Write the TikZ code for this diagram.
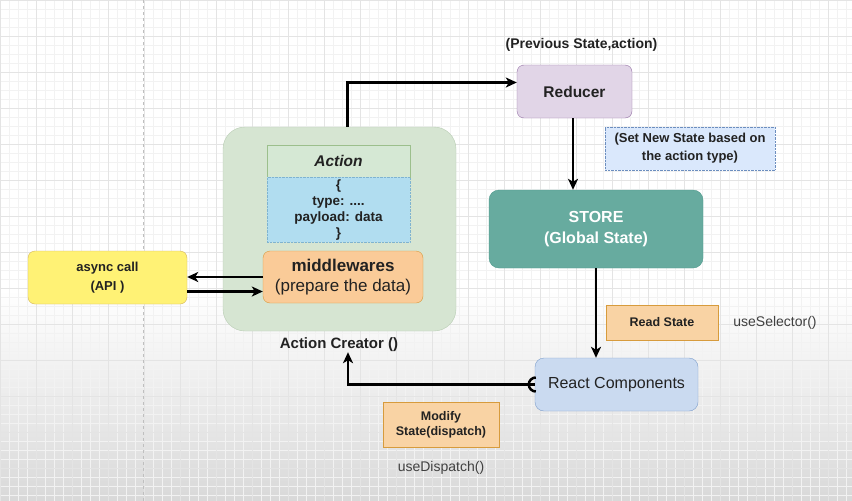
\documentclass[tikz,border=0pt]{standalone}
\usepackage{fontspec}
\setmainfont{Liberation Sans}
\usepackage{xcolor}
\usetikzlibrary{positioning, arrows.meta}

\definecolor{gridminor}{HTML}{F2F2F2}
\definecolor{gridmajor}{HTML}{E4E4E4}
\definecolor{txt}{HTML}{222222}
\definecolor{creatorfill}{HTML}{D6E5D2}
\definecolor{creatordraw}{HTML}{B9CDB4}
\definecolor{headfill}{HTML}{D5E8D4}
\definecolor{headdraw}{HTML}{9CBF8C}
\definecolor{bodyfill}{HTML}{B1DDF0}
\definecolor{bodydraw}{HTML}{7FB3D0}
\definecolor{mwfill}{HTML}{FACB98}
\definecolor{mwdraw}{HTML}{D89A3C}
\definecolor{apifill}{HTML}{FFF275}
\definecolor{apidraw}{HTML}{D6B656}
\definecolor{redfill}{HTML}{E1D5E7}
\definecolor{reddraw}{HTML}{9673A6}
\definecolor{notefill}{HTML}{DAE8FC}
\definecolor{notedraw}{HTML}{6C8EBF}
\definecolor{storefill}{HTML}{67AB9F}
\definecolor{storedraw}{HTML}{4F9A8D}
\definecolor{tagfill}{HTML}{F9D3A4}
\definecolor{tagdraw}{HTML}{D79B3C}
\definecolor{compfill}{HTML}{CADAF0}
\definecolor{compdraw}{HTML}{7F9FCC}

\begin{document}
\begin{tikzpicture}[
        x=1pt, y=-1pt,
        every node/.style={text=txt, align=center, inner sep=0pt},
        box/.style={rectangle, rounded corners=7pt, thin},
        creator/.style={rectangle, rounded corners=22pt, draw=creatordraw, fill=creatorfill, thin, minimum width=233pt, minimum height=204pt},
        actionhead/.style={rectangle, draw=headdraw, fill=headfill, thin, minimum width=143pt, minimum height=32pt, font=\fontsize{15.5}{18}\selectfont\bfseries\itshape},
        actionbody/.style={rectangle, draw=bodydraw, fill=bodyfill, thin, densely dotted, minimum width=143pt, minimum height=65pt, font=\fontsize{13.5}{16}\selectfont\bfseries},
        middle/.style={box, draw=mwdraw, fill=mwfill, minimum width=160pt, minimum height=52pt, font=\fontsize{17}{20}\selectfont},
        api/.style={box, draw=apidraw, fill=apifill, minimum width=159pt, minimum height=53pt, font=\fontsize{13}{19}\selectfont\bfseries},
        reducer/.style={box, draw=reddraw, fill=redfill, minimum width=115pt, minimum height=53pt, font=\fontsize{15.5}{18}\selectfont\bfseries},
        note/.style={rectangle, draw=notedraw, fill=notefill, densely dotted, thin, minimum width=170pt, minimum height=43pt, font=\fontsize{13}{18}\selectfont\bfseries},
        store/.style={box, rounded corners=10pt, draw=storedraw, fill=storefill, minimum width=214pt, minimum height=78pt, text=white, font=\fontsize{16}{21}\selectfont\bfseries},
        tag/.style={rectangle, draw=tagdraw, fill=tagfill, thin, font=\fontsize{12.5}{15}\selectfont\bfseries},
        comp/.style={box, rounded corners=9pt, draw=compdraw, fill=compfill, minimum width=163pt, minimum height=53pt, font=\fontsize{16}{18}\selectfont},
        label/.style={font=\fontsize{14}{16}\selectfont\bfseries},
        hook/.style={text=black!75, font=\fontsize{14}{16}\selectfont},
        edge/.style={-{Stealth[length=11pt, width=10pt, inset=3pt]}, line width=2.5pt}
    ]
        % Background grid
        \useasboundingbox (0,0) rectangle (852,501);
        \fill[white] (0,0) rectangle (852,501);
        \shade[top color=white, bottom color=black!15] (0,290) rectangle (852,501);
        \draw[gridminor, line width=0.6pt, step=9pt] (0,0) grid (852,501);
        \draw[gridmajor, line width=0.9pt, step=36pt] (0,0) grid (852,501);
        \draw[black!25, dashed, line width=0.7pt] (143,0) -- (143,501);
        % Action creator
        \node[creator] (ac) at (339.5,229) {};
        \node[actionhead] (acthead) at (338.5,161) {Action};
        \node[actionbody, below=0pt of acthead] (actbody) {\{\\type: ....\\payload: data\\\}};
        \node[middle] (mw) at (343,277) {\textbf{middlewares}\\(prepare the data)};
        \node[label, font=\fontsize{15}{17}\selectfont\bfseries] (acl) at (339,345) {Action Creator ()};
        % Async call
        \node[api] (api) at (107.5,277.5) {async call\\(API )};
        % Reducer and store
        \node[reducer] (red) at (574.5,91.5) {Reducer};
        \node[label, above=13pt of red, xshift=7pt] (prev) {(Previous State,action)};
        \node[note] (setnew) at (690,148.5) {(Set New State based on\\the action type)};
        \node[store] (store) at (596,229) {STORE\\(Global State)};
        % Components
        \node[tag, minimum width=112pt, minimum height=35pt] (read) at (662,322.5) {Read State};
        \node[hook, right=15pt of read, anchor=west] (usesel) {useSelector()};
        \node[comp] (rc) at (616.5,384.5) {React Components};
        \node[tag, minimum width=116pt, minimum height=45pt] (modify) at (441,424.5) {Modify\\State(dispatch)};
        \node[hook, below=14pt of modify] (usedisp) {useDispatch()};
        % Edges
        \draw[edge] (mw.west) -- (mw.west -| api.east);
        \draw[edge] ([yshift=-14pt]api.east) -- ([yshift=-14pt]api.east -| mw.west);
        \draw[edge] ([xshift=8pt]ac.north) |- ([yshift=9pt]red.west);
        \draw[edge] (red.south -| 573,0) -- (573,0 |- store.north);
        \draw[edge] (store.south) -- (store.south |- rc.north);
        \draw[edge] (rc.west) -| ([xshift=9pt]acl.south);
        \draw[line width=2.5pt] ([xshift=1pt]rc.west) ++(0,7) arc[start angle=90, end angle=270, radius=7];
    \end{tikzpicture}
\end{document}
